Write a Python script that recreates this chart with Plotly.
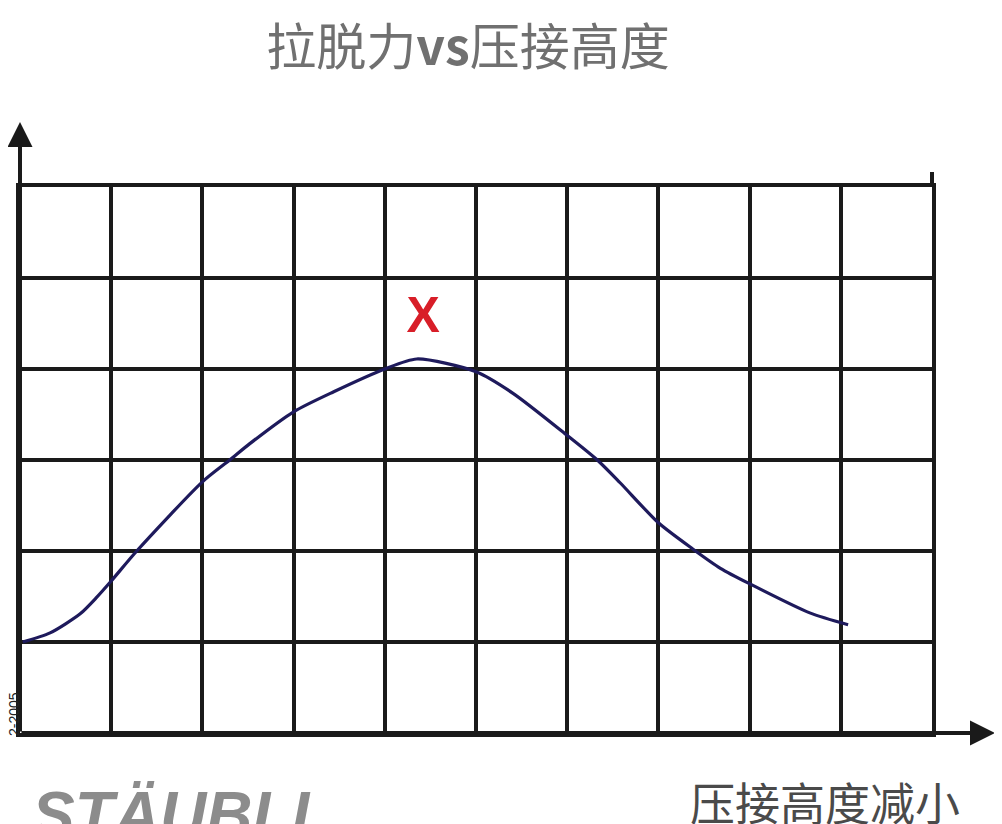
import plotly.graph_objects as go

# Curve: pull-out force vs crimp height (grid units)
curve_x = [0.03, 0.33, 0.66, 0.84, 1.0, 1.28, 2.0, 2.30, 2.52, 3.0, 3.44, 4.0, 4.35, 5.0, 5.41, 6.0, 6.33, 6.58, 7.0, 7.38, 7.68, 8.0, 8.66, 9.08]
curve_y = [1.0, 1.10, 1.31, 1.49, 1.67, 2.0, 2.76, 3.0, 3.18, 3.53, 3.75, 4.0, 4.11, 3.97, 3.73, 3.27, 3.0, 2.75, 2.31, 2.02, 1.81, 1.64, 1.32, 1.19]

# Peak marker
peak_x = [4.42]
peak_y = [4.54]
peak_text = ["X"]

title_text = "拉脱力<b>vs</b>压接高度"
xlabel_text = "压接高度减小"
side_text = "2-2005"
logo_text = "<i><b>STÄUBLI</b></i>"

OFF = 8  # page body margin
PW, PH = 1002, 824
W, H = PW - OFF, PH - OFF
# plot box in page pixels: x 20..932, y 187..733
L, R, T, B = 20 - OFF, PW - 932, 187 - OFF, PH - 733
plot_w = W - L - R
plot_h = H - T - B

def px(xp):  # page pixel -> paper x
    return (xp - OFF - L) / plot_w

def py(yp):  # page pixel -> paper y
    return (H - B - (yp - OFF)) / plot_h

grid_col = "#1a1a1a"

fig = go.Figure()
fig.add_trace(go.Scatter(
    x=curve_x, y=curve_y, mode="lines",
    line=dict(color="#1e1a5c", width=3.2, shape="spline", smoothing=0.7),
    hoverinfo="skip", showlegend=False,
))
fig.add_trace(go.Scatter(
    x=peak_x, y=peak_y, mode="text", text=peak_text,
    textposition="middle center",
    textfont=dict(family="Liberation Sans", size=50, color="#d81e28", weight="bold"),
    hoverinfo="skip", showlegend=False,
))

axis_common = dict(
    showgrid=True, gridcolor=grid_col, gridwidth=3.5,
    showticklabels=False, ticks="", zeroline=False,
    showline=True, linecolor=grid_col, linewidth=4, mirror=True,
    dtick=1, fixedrange=True,
)
fig.update_xaxes(range=[0, 10], **axis_common)
fig.update_yaxes(range=[0, 6], **axis_common)

annotations = [
    # y axis arrow
    dict(x=0, y=py(122), xref="paper", yref="paper", ax=0, ay=733 - 122,
         axref="pixel", ayref="pixel", text="", showarrow=True,
         arrowhead=2, arrowwidth=4, arrowsize=1.25, arrowcolor=grid_col),
    # x axis arrow
    dict(x=px(995), y=0, xref="paper", yref="paper", ax=-(995 - 20), ay=0,
         axref="pixel", ayref="pixel", text="", showarrow=True,
         arrowhead=2, arrowwidth=4, arrowsize=1.25, arrowcolor=grid_col),
    # x label
    dict(x=px(825), y=py(801), xref="paper", yref="paper", text=xlabel_text,
         showarrow=False, xanchor="center", yanchor="middle",
         font=dict(family="Noto Sans CJK SC", size=45, color="#4a4a4a")),
    # side code
    dict(x=px(14), y=py(714), xref="paper", yref="paper", text=side_text,
         showarrow=False, textangle=-90, xanchor="center", yanchor="middle",
         font=dict(family="Liberation Sans", size=14, color="#222222")),
    # logo
    dict(x=px(30), y=py(815), xref="paper", yref="paper", text=logo_text,
         showarrow=False, xanchor="left", yanchor="middle",
         font=dict(family="Liberation Sans", size=64, color="#8c8c8c")),
]

shapes = [
    dict(type="line", xref="paper", yref="paper", x0=1, x1=1, y0=1, y1=py(172),
         line=dict(color=grid_col, width=4)),
]

fig.update_layout(
    width=W, height=H,
    margin=dict(l=L, r=R, t=T, b=B),
    paper_bgcolor="white", plot_bgcolor="white",
    title=dict(text=title_text, x=px(468), xref="paper", xanchor="center",
               y=1 - (47 - OFF) / H, yref="container", yanchor="middle",
               font=dict(family="Noto Sans CJK SC", size=50, color="#707070")),
    annotations=annotations, shapes=shapes,
    showlegend=False,
)

fig.write_html("out.html")
